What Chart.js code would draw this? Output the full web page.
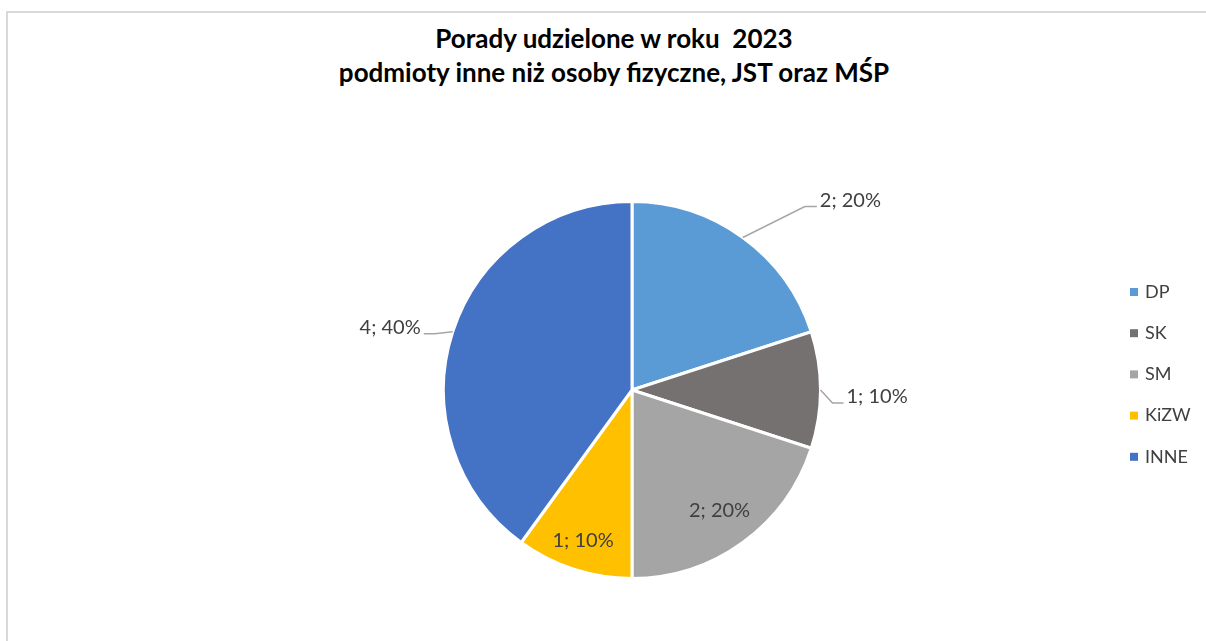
<!DOCTYPE html>
<html><head><meta charset="utf-8">
<script src="https://cdn.jsdelivr.net/npm/chart.js@4.4.1/dist/chart.umd.min.js"></script>
<style>
html,body{margin:0;padding:0;width:1206px;height:641px;overflow:hidden;background:#fff;}
#frame{position:absolute;left:6px;top:11px;width:1230px;height:700px;border:2px solid #D9D9D9;box-sizing:border-box;}
#title{position:absolute;left:0;top:21px;width:1228px;text-align:center;font-family:Lato,"Noto Sans",sans-serif;font-weight:bold;font-size:26px;line-height:34px;color:#000;white-space:pre;}
#wrap{position:absolute;left:0;top:0;width:1206px;height:641px;}
</style></head><body>
<div id="frame"></div>
<div id="title"></div>
<div id="wrap"><canvas id="c"></canvas></div>
<script>
const titleLines = ['Porady udzielone w roku  2023', 'podmioty inne niż osoby fizyczne, JST oraz MŚP'];
const categories = ['DP', 'SK', 'SM', 'KiZW', 'INNE'];
const values = [2, 1, 2, 1, 4];
const colors = ['#5B9BD5', '#767171', '#A5A5A5', '#FFC000', '#4472C4'];

// label placement (style, not data)
const labelPlacement = [
  {inside:false, elbow:[62,-31], tail:12},
  {inside:false, elbow:[12,13], tail:11},
  {inside:true, r:0.79},
  {inside:true, r:0.84},
  {inside:false, elbow:[-18,2], tail:-11}
];
const FONT = 'Lato, "Noto Sans", sans-serif';

document.getElementById('title').textContent = titleLines.join('\n');

const sliceLabels = {
  id:'sliceLabels',
  afterDatasetsDraw(chart){
    const ctx = chart.ctx;
    const meta = chart.getDatasetMeta(0);
    const total = values.reduce((a,b)=>a+b,0);
    meta.data.forEach((arc,i)=>{
      const {x,y,startAngle,endAngle,outerRadius} = arc.getProps(['x','y','startAngle','endAngle','outerRadius'],true);
      const mid = (startAngle+endAngle)/2;
      const txt = values[i] + '; ' + Math.round(values[i]/total*100) + '%';
      const p = labelPlacement[i];
      ctx.save();
      ctx.font = '20px ' + FONT;
      ctx.fillStyle = '#404040';
      if (p.inside) {
        const r = outerRadius*p.r;
        ctx.textAlign='center'; ctx.textBaseline='middle';
        ctx.fillText(txt, x+Math.cos(mid)*r, y+Math.sin(mid)*r);
      } else {
        const sx = x+Math.cos(mid)*outerRadius, sy = y+Math.sin(mid)*outerRadius;
        const ex = sx+p.elbow[0], ey = sy+p.elbow[1];
        const tx = ex+p.tail;
        ctx.strokeStyle='#A6A6A6'; ctx.lineWidth=1.5;
        ctx.beginPath(); ctx.moveTo(sx,sy); ctx.lineTo(ex,ey); ctx.lineTo(tx,ey); ctx.stroke();
        ctx.textBaseline='middle';
        if (p.tail>0){ ctx.textAlign='left'; ctx.fillText(txt, tx+3, ey-6); }
        else { ctx.textAlign='right'; ctx.fillText(txt, tx-3, ey-6); }
      }
      ctx.restore();
    });
  }
};

const sideLegend = {
  id:'sideLegend',
  afterDraw(chart){
    const ctx = chart.ctx;
    ctx.save();
    ctx.font = '18px ' + FONT;
    ctx.textBaseline='middle';
    ctx.textAlign='left';
    categories.forEach((c,i)=>{
      const cy = 292 + i*41.2;
      ctx.fillStyle = colors[i];
      ctx.fillRect(1130, cy-4, 8, 8);
      ctx.fillStyle = '#404040';
      ctx.fillText(c, 1145, cy);
    });
    ctx.restore();
  }
};

new Chart(document.getElementById('c'), {
  type:'pie',
  data:{
    labels: categories,
    datasets:[{data: values, backgroundColor: colors, borderColor:'#FFFFFF', borderWidth:3}]
  },
  options:{
    responsive:true,
    maintainAspectRatio:false,
    animation:false,
    layout:{padding:{left:442, right:384, top:200, bottom:61}},
    plugins:{legend:{display:false}, tooltip:{enabled:false}, title:{display:false}}
  },
  plugins:[sliceLabels, sideLegend]
});
</script>
</body></html>
